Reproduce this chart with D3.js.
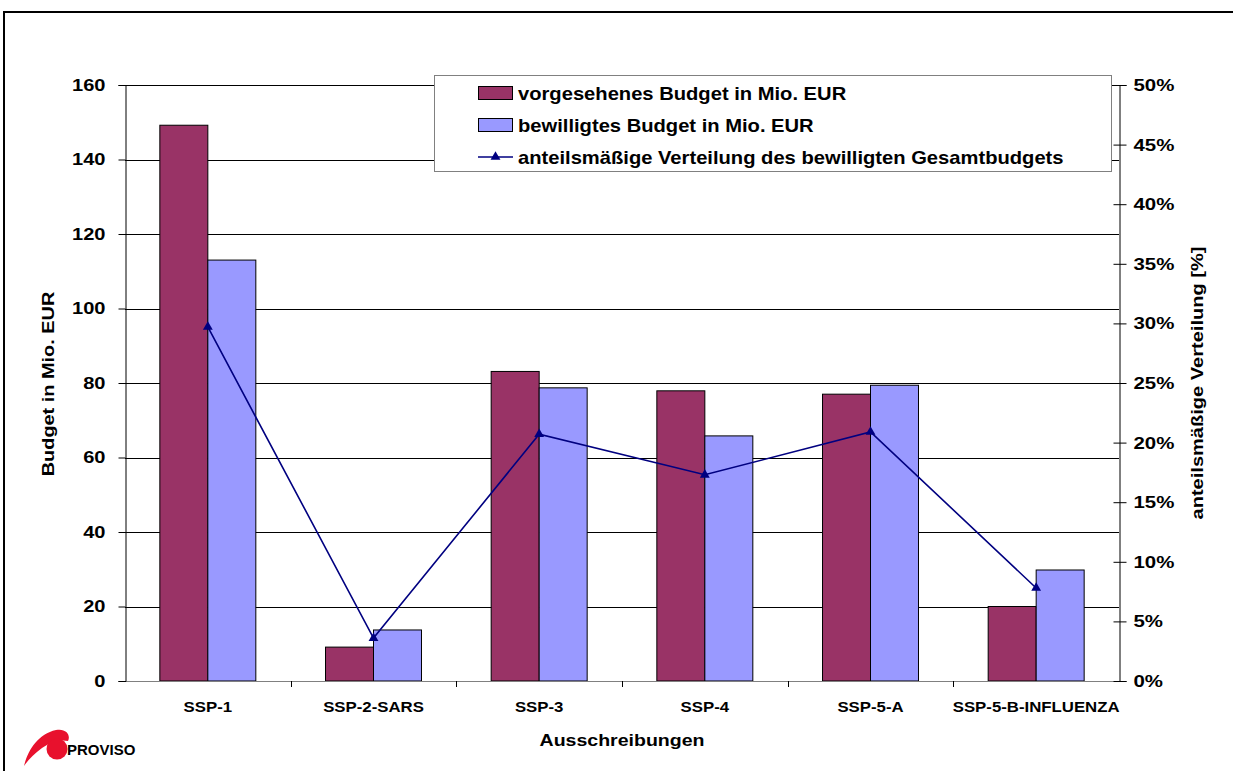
<!DOCTYPE html>
<html>
<head>
<meta charset="utf-8">
<script src="https://cdn.jsdelivr.net/npm/d3@7"></script>
<style>
  body { margin: 0; background: #fff; }
  svg text { font-family: "Liberation Sans", Arial, sans-serif; font-weight: bold; fill: #000; }
</style>
</head>
<body>
<div id="chart"></div>
<script>
// values
var categories = ["SSP-1", "SSP-2-SARS", "SSP-3", "SSP-4", "SSP-5-A", "SSP-5-B-INFLUENZA"];
var plannedBudget = [149.2, 9.1, 83.1, 77.9, 77.0, 20.0];
var approvedBudget = [113.0, 13.7, 78.7, 65.8, 79.4, 29.8];
var sharePct = [29.7, 3.6, 20.7, 17.3, 20.9, 7.8];
var leftTicks = [0, 20, 40, 60, 80, 100, 120, 140, 160];
var rightTicks = [0, 5, 10, 15, 20, 25, 30, 35, 40, 45, 50];
var seriesNames = ["vorgesehenes Budget in Mio. EUR", "bewilligtes Budget in Mio. EUR", "anteilsmäßige Verteilung des bewilligten Gesamtbudgets"];

var svgWidth = 1233, svgHeight = 771;
var plot = { left: 125, right: 1119, top: 85, bottom: 681 };

// the original font is a bit wider than Arial, so stretch text sideways
function stretch(sel, k) {
  sel.each(function() {
    var t = d3.select(this);
    var x = +t.attr("x") || 0;
    var prev = t.attr("transform") || "";
    t.attr("transform", prev + ` translate(${x},0) scale(${k},1) translate(${-x},0)`);
  });
}

var svg = d3.select("#chart").append("svg")
  .attr("width", svgWidth)
  .attr("height", svgHeight);

// outer frame
svg.append("rect")
  .attr("x", 4).attr("y", 12)
  .attr("width", 1260).attr("height", 800)
  .attr("fill", "none").attr("stroke", "#000").attr("stroke-width", 2);

var xScale = d3.scaleBand()
  .domain(categories)
  .range([plot.left, plot.right]);

var xSub = d3.scaleBand()
  .domain(["planned", "approved"])
  .range([0, xScale.bandwidth()])
  .paddingOuter(0.726);

var yLeft = d3.scaleLinear().domain([0, 160]).range([plot.bottom, plot.top]);
var yRight = d3.scaleLinear().domain([0, 50]).range([plot.bottom, plot.top]);

// gridlines
svg.append("g")
  .selectAll("line")
  .data(leftTicks.filter(d => d > 0))
  .enter().append("line")
  .attr("x1", plot.left).attr("x2", plot.right)
  .attr("y1", d => Math.round(yLeft(d)) + 0.5)
  .attr("y2", d => Math.round(yLeft(d)) + 0.5)
  .attr("stroke", "#000").attr("stroke-width", 1);

// bars
var barGroup = svg.append("g");
barGroup.selectAll(".planned")
  .data(plannedBudget)
  .enter().append("rect")
  .attr("x", (d, i) => xScale(categories[i]) + xSub("planned"))
  .attr("y", d => yLeft(d))
  .attr("width", xSub.bandwidth())
  .attr("height", d => plot.bottom - yLeft(d))
  .attr("fill", "#993366").attr("stroke", "#000").attr("stroke-width", 1);

barGroup.selectAll(".approved")
  .data(approvedBudget)
  .enter().append("rect")
  .attr("x", (d, i) => xScale(categories[i]) + xSub("approved"))
  .attr("y", d => yLeft(d))
  .attr("width", xSub.bandwidth())
  .attr("height", d => plot.bottom - yLeft(d))
  .attr("fill", "#9999FF").attr("stroke", "#000").attr("stroke-width", 1);

// bottom axis
var xAxis = svg.append("g");
xAxis.append("line")
  .attr("x1", plot.left).attr("x2", plot.right)
  .attr("y1", plot.bottom + 0.5).attr("y2", plot.bottom + 0.5)
  .attr("stroke", "#808080");
xAxis.selectAll(".tk")
  .data(categories.slice(1))
  .enter().append("line")
  .attr("x1", d => Math.round(xScale(d)) + 0.5)
  .attr("x2", d => Math.round(xScale(d)) + 0.5)
  .attr("y1", plot.bottom).attr("y2", plot.bottom + 6)
  .attr("stroke", "#000");
xAxis.selectAll("text")
  .data(categories)
  .enter().append("text")
  .attr("x", d => xScale(d) + xScale.bandwidth() / 2)
  .attr("y", 712)
  .attr("text-anchor", "middle")
  .style("font-size", "15px")
  .text(d => d)
  .call(stretch, 1.12);

// left axis
var leftAxis = d3.axisLeft(yLeft).tickValues(leftTicks).tickSize(7).tickPadding(13);
var gl = svg.append("g")
  .attr("transform", `translate(${plot.left + 0.5}, 0)`)
  .call(leftAxis);
gl.select(".domain").attr("stroke", "#000");
gl.selectAll("text").style("font-size", "17px").attr("font-family", null).call(stretch, 1.18);

// right axis with cross ticks
var rightAxis = d3.axisRight(yRight).tickValues(rightTicks).tickSize(7).tickPadding(7)
  .tickFormat(d => d + "%");
var gr = svg.append("g")
  .attr("transform", `translate(${plot.right + 0.5}, 0)`)
  .call(rightAxis);
gr.selectAll(".tick line").attr("x1", -6);
gr.selectAll("text").style("font-size", "17px").attr("font-family", null).call(stretch, 1.2);

// line series
var lineGen = d3.line()
  .x((d, i) => xScale(categories[i]) + xScale.bandwidth() / 2)
  .y(d => yRight(d));

svg.append("path")
  .datum(sharePct)
  .attr("d", lineGen)
  .attr("fill", "none")
  .attr("stroke", "#000080")
  .attr("stroke-width", 1.6);

var tri = d3.symbol(d3.symbolTriangle).size(42);
svg.selectAll(".marker")
  .data(sharePct)
  .enter().append("path")
  .attr("d", tri)
  .attr("transform", (d, i) => `translate(${xScale(categories[i]) + xScale.bandwidth() / 2}, ${yRight(d)})`)
  .attr("fill", "#000080");

// axis titles
svg.append("text")
  .attr("transform", `translate(54, 384) rotate(-90)`)
  .attr("text-anchor", "middle")
  .style("font-size", "17px")
  .text("Budget in Mio. EUR")
  .call(stretch, 1.17);

svg.append("text")
  .attr("transform", `translate(1203, 383) rotate(-90)`)
  .attr("text-anchor", "middle")
  .style("font-size", "17px")
  .text("anteilsmäßige Verteilung [%]")
  .call(stretch, 1.18);

svg.append("text")
  .attr("x", (plot.left + plot.right) / 2)
  .attr("y", 746)
  .attr("text-anchor", "middle")
  .style("font-size", "17px")
  .text("Ausschreibungen")
  .call(stretch, 1.15);

// legend
var legend = svg.append("g");
legend.append("rect")
  .attr("x", 434.5).attr("y", 75.5)
  .attr("width", 677).attr("height", 96)
  .attr("fill", "#fff").attr("stroke", "#808080");

var legendRows = legend.selectAll(".row")
  .data(seriesNames)
  .enter().append("g")
  .attr("transform", (d, i) => `translate(0, ${93 + i * 32})`);

legendRows.filter((d, i) => i < 2).append("rect")
  .attr("x", 478.5).attr("y", -6.5)
  .attr("width", 34).attr("height", 13)
  .attr("fill", (d, i) => i == 0 ? "#993366" : "#9999FF")
  .attr("stroke", "#000");

var lineRow = legendRows.filter((d, i) => i == 2);
lineRow.append("line")
  .attr("x1", 478).attr("x2", 513)
  .attr("y1", 0).attr("y2", 0)
  .attr("stroke", "#000080").attr("stroke-width", 1.6);
lineRow.append("path")
  .attr("d", tri)
  .attr("transform", "translate(495.5, 0)")
  .attr("fill", "#000080");

legendRows.append("text")
  .attr("x", 518)
  .attr("y", 7)
  .style("font-size", "18px")
  .text(d => d)
  .call(stretch, 1.12);

// PROVISO logo
var logo = svg.append("g");
logo.append("path")
  .attr("d", "M24,766 C28,750 38,734 56,730 C66,728 71,735 68,741 C60,739 50,742 42,748 C34,754 28,760 24,766 Z")
  .attr("fill", "#E8112D");
logo.append("circle")
  .attr("cx", 57).attr("cy", 749).attr("r", 10.5)
  .attr("fill", "#E8112D");
logo.append("text")
  .attr("x", 67).attr("y", 755)
  .style("font-size", "15px")
  .text("PROVISO");
</script>
</body>
</html>
